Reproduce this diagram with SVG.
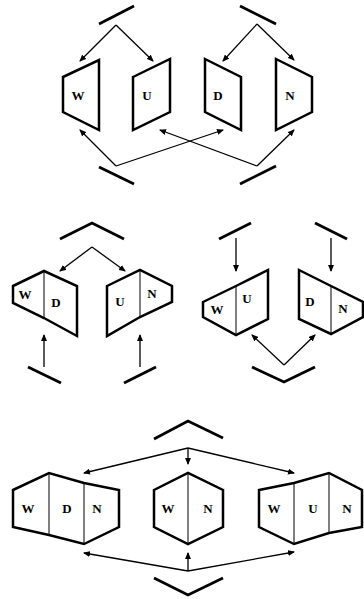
<svg xmlns="http://www.w3.org/2000/svg" width="364" height="599" viewBox="0 0 364 599">
<style>
.sh{fill:none;stroke:#000;stroke-width:2.5;stroke-linejoin:miter}
.dv{stroke:#000;stroke-width:1}
.bar{fill:none;stroke:#000;stroke-width:2.8;stroke-linecap:butt}
.ar{fill:none;stroke:#000;stroke-width:1.3;marker-end:url(#ah)}
.lb{font-family:"Liberation Serif","Times New Roman",serif;font-weight:bold;font-size:13px;text-anchor:middle;fill:#000}
</style>
<defs>
<marker id="ah" markerUnits="userSpaceOnUse" markerWidth="7" markerHeight="6" refX="6" refY="3" orient="auto">
<path d="M0,0 L7,3 L0,6 Z" fill="#000"/>
</marker>
</defs>
<rect width="364" height="599" fill="#fff"/>

<!-- Bars -->
<g id="bars">
<line class="bar" x1="99" y1="24" x2="134" y2="6"/>
<line class="bar" x1="240" y1="6" x2="276" y2="24"/>
<line class="bar" x1="99" y1="167" x2="134" y2="184"/>
<line class="bar" x1="240" y1="184" x2="276" y2="166"/>
<polyline class="bar" points="60,239 92,223 124,239"/>
<line class="bar" x1="28" y1="367" x2="61" y2="383"/>
<line class="bar" x1="124" y1="383" x2="156" y2="367"/>
<line class="bar" x1="219" y1="239" x2="251" y2="223"/>
<line class="bar" x1="315" y1="223" x2="347" y2="239"/>
<polyline class="bar" points="252,367 284,382 315,367"/>
<polyline class="bar" points="154,439 188,421 223,438"/>
<polyline class="bar" points="154,578 188,595 223,578"/>
</g>

<!-- Top section nodes -->
<g id="W1">
<polygon class="sh" points="63,77 99,60 99,130 63,112"/>
<text class="lb" x="78" y="100">W</text>
</g>
<g id="U1">
<polygon class="sh" points="133,77 170,59 170,112 133,130"/>
<text class="lb" x="147" y="100">U</text>
</g>
<g id="D1">
<polygon class="sh" points="205,59 241,77 241,130 205,112"/>
<text class="lb" x="218" y="100">D</text>
</g>
<g id="N1">
<polygon class="sh" points="276,59 312,77 312,112 276,130"/>
<text class="lb" x="290" y="100">N</text>
</g>

<!-- Middle section nodes -->
<g id="WD">
<polygon class="sh" points="13,286 44,271 77,286 77,336 44,318 13,303"/>
<line class="dv" x1="44" y1="271" x2="44" y2="318"/>
<text class="lb" x="25" y="299">W</text>
<text class="lb" x="56" y="307">D</text>
</g>
<g id="UN">
<polygon class="sh" points="107,286 140,270 172,286 172,302 140,317 107,336"/>
<line class="dv" x1="140" y1="270" x2="140" y2="317"/>
<text class="lb" x="120" y="306">U</text>
<text class="lb" x="152" y="298">N</text>
</g>
<g id="WU">
<polygon class="sh" points="203,302 236,286 268,270 268,319 236,335 203,317"/>
<line class="dv" x1="236" y1="286" x2="236" y2="335"/>
<text class="lb" x="217" y="314">W</text>
<text class="lb" x="247" y="303">U</text>
</g>
<g id="DN">
<polygon class="sh" points="299,270 331,286 363,302 363,317 331,334 299,319"/>
<line class="dv" x1="331" y1="286" x2="331" y2="334"/>
<text class="lb" x="310" y="306">D</text>
<text class="lb" x="343" y="313">N</text>
</g>

<!-- Bottom section nodes -->
<g id="WDN">
<polygon class="sh" points="13,490 49,473 84,483 119,490 119,527 84,544 49,535 13,527"/>
<line class="dv" x1="49" y1="473" x2="49" y2="535"/>
<line class="dv" x1="84" y1="483" x2="84" y2="544"/>
<text class="lb" x="28" y="513">W</text>
<text class="lb" x="67" y="513">D</text>
<text class="lb" x="97" y="513">N</text>
</g>
<g id="WN">
<polygon class="sh" points="154,490 188,473 223,490 223,527 188,544 154,527"/>
<line class="dv" x1="188" y1="473" x2="188" y2="544"/>
<text class="lb" x="168" y="513">W</text>
<text class="lb" x="208" y="513">N</text>
</g>
<g id="WUN">
<polygon class="sh" points="259,490 294,483 329,473 362,490 362,527 329,533 294,544 259,527"/>
<line class="dv" x1="294" y1="483" x2="294" y2="544"/>
<line class="dv" x1="329" y1="473" x2="329" y2="533"/>
<text class="lb" x="274" y="513">W</text>
<text class="lb" x="313" y="513">U</text>
<text class="lb" x="347" y="513">N</text>
</g>

<!-- Connectors -->
<g id="connectors">
<line class="ar" x1="116" y1="25" x2="80" y2="61"/>
<line class="ar" x1="116" y1="25" x2="153" y2="61"/>
<line class="ar" x1="257" y1="24" x2="223" y2="61"/>
<line class="ar" x1="257" y1="24" x2="294" y2="60"/>
<line class="ar" x1="116" y1="166" x2="80" y2="130"/>
<line class="ar" x1="116" y1="166" x2="223" y2="130"/>
<line class="ar" x1="257" y1="166" x2="160" y2="130"/>
<line class="ar" x1="257" y1="166" x2="294" y2="130"/>

<line class="ar" x1="92" y1="247" x2="60" y2="271"/>
<line class="ar" x1="92" y1="247" x2="125" y2="271"/>
<line class="ar" x1="44" y1="367" x2="44" y2="335"/>
<line class="ar" x1="140" y1="367" x2="140" y2="335"/>
<line class="ar" x1="236" y1="238" x2="236" y2="271"/>
<line class="ar" x1="331" y1="238" x2="331" y2="271"/>
<line class="ar" x1="284" y1="365" x2="252" y2="335"/>
<line class="ar" x1="284" y1="365" x2="315" y2="335"/>

<line class="ar" x1="188" y1="448" x2="84" y2="473"/>
<line class="ar" x1="188" y1="448" x2="188" y2="464"/>
<line class="ar" x1="188" y1="448" x2="294" y2="473"/>
<line class="ar" x1="188" y1="571" x2="84" y2="553"/>
<line class="ar" x1="188" y1="571" x2="188" y2="553"/>
<line class="ar" x1="188" y1="571" x2="294" y2="552"/>
</g>
</svg>
